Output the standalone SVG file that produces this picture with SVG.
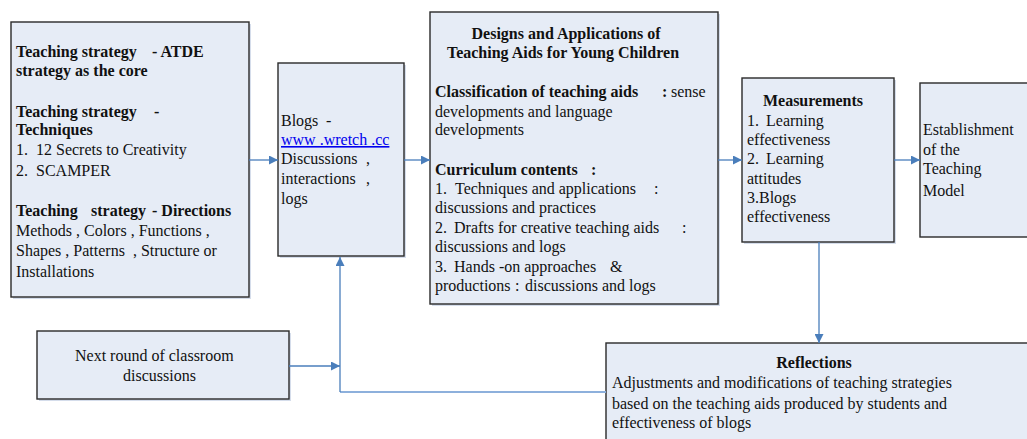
<svg xmlns="http://www.w3.org/2000/svg" width="1027" height="439" viewBox="0 0 1027 439">
<style>
text{font-family:"Liberation Serif","Times New Roman",serif;font-size:16px;fill:#111;white-space:pre}
.b{font-weight:bold}
.c{text-anchor:middle}
.box{fill:#E6ECF6;stroke:#2a2a2a;stroke-width:1.4}
.sh{fill:#D5DDEB}
.link{fill:#0000EE;text-decoration:underline}
.con{fill:none;stroke:#4A7EBB;stroke-width:1.3}
.con2{fill:none;stroke:#8DB0DC;stroke-width:2.2}
</style>
<defs>
<marker id="ah" markerUnits="userSpaceOnUse" markerWidth="10" markerHeight="9" refX="9" refY="4.5" orient="auto">
<path d="M0,0 L9,4.5 L0,9 z" fill="#4A7EBB"/>
</marker>
</defs>
<rect width="1027" height="439" fill="#fff"/>

<g id="strategy">
<rect class="sh" x="13" y="24" width="238" height="275"/>
<rect class="box" x="11" y="22" width="238" height="275"/>
<text class="b" x="16" y="57">Teaching strategy<tspan x="152">- ATDE</tspan></text>
<text class="b" x="16" y="76">strategy as the core</text>
<text class="b" x="16" y="117">Teaching strategy<tspan x="154">-</tspan></text>
<text class="b" x="16" y="135">Techniques</text>
<text x="16" y="155">1.  12 Secrets to Creativity</text>
<text x="16" y="176">2.  SCAMPER</text>
<text class="b" x="16" y="216">Teaching<tspan x="91">strategy</tspan><tspan x="152">- Directions</tspan></text>
<text x="16" y="236">Methods , Colors , Functions ,</text>
<text x="16" y="256">Shapes , Patterns  , Structure or</text>
<text x="16" y="277">Installations</text>
</g>

<g id="blogs">
<rect class="sh" x="280" y="65" width="126" height="193"/>
<rect class="box" x="278" y="63" width="126" height="193"/>
<text x="281" y="126">Blogs<tspan x="326">-</tspan></text>
<text class="link" x="281" y="145">www .wretch .cc</text>
<text x="281" y="164">Discussions<tspan x="366">,</tspan></text>
<text x="281" y="184">interactions<tspan x="366">,</tspan></text>
<text x="281" y="204">logs</text>
</g>

<g id="designs">
<rect class="sh" x="432" y="14" width="288" height="292"/>
<rect class="box" x="430" y="12" width="288" height="292"/>
<text class="b c" x="566" y="39">Designs and Applications of</text>
<text class="b c" x="563" y="58">Teaching Aids for Young Children</text>
<text class="b" x="435" y="97">Classification of teaching aids<tspan x="662">:</tspan></text>
<text x="671" y="97">sense</text>
<text x="435" y="117">developments and language</text>
<text x="435" y="135">developments</text>
<text class="b" x="435" y="175">Curriculum contents<tspan x="591">:</tspan></text>
<text x="435" y="194">1.<tspan x="455">Techniques and applications</tspan><tspan x="654">:</tspan></text>
<text x="435" y="213">discussions and practices</text>
<text x="435" y="233">2.<tspan x="454">Drafts for creative teaching aids</tspan><tspan x="682">:</tspan></text>
<text x="435" y="252">discussions and logs</text>
<text x="435" y="272">3.<tspan x="454">Hands -on approaches</tspan><tspan x="610">&amp;</tspan></text>
<text x="435" y="291">productions<tspan x="515">:</tspan><tspan x="525">discussions and logs</tspan></text>
</g>

<g id="measurements">
<rect class="sh" x="744" y="80" width="152" height="164"/>
<rect class="box" x="742" y="78" width="152" height="164"/>
<text class="b c" x="813" y="106">Measurements</text>
<text x="747" y="126">1.<tspan x="766">Learning</tspan></text>
<text x="747" y="145">effectiveness</text>
<text x="747" y="164">2.<tspan x="766">Learning</tspan></text>
<text x="747" y="184">attitudes</text>
<text x="747" y="203">3.Blogs</text>
<text x="747" y="222">effectiveness</text>
</g>

<g id="model">
<rect class="box" x="920" y="83" width="115" height="154"/>
<text x="923" y="135">Establishment</text>
<text x="923" y="155">of the</text>
<text x="923" y="174">Teaching</text>
<text x="923" y="196">Model</text>
</g>

<g id="next-round">
<rect class="sh" x="39" y="333" width="252" height="68"/>
<rect class="box" x="37" y="331" width="252" height="68"/>
<text x="75" y="361">Next round of classroom</text>
<text x="123" y="381">discussions</text>
</g>

<g id="reflections">
<rect class="box" x="606" y="343" width="430" height="110"/>
<text class="b c" x="814" y="368">Reflections</text>
<text x="612" y="388">Adjustments and modifications of teaching strategies</text>
<text x="612" y="409">based on the teaching aids produced by students and</text>
<text x="612" y="428">effectiveness of blogs</text>
</g>

<g id="connectors">
<path class="con" d="M249,160 H278" marker-end="url(#ah)"/>
<path class="con" d="M404,160 H430" marker-end="url(#ah)"/>
<path class="con" d="M718,160 H742" marker-end="url(#ah)"/>
<path class="con" d="M894,160 H920" marker-end="url(#ah)"/>
<path class="con" d="M819,242 V343" marker-end="url(#ah)"/>
<path class="con2" d="M606,392 H340"/>
<path class="con" d="M340,392 V257" marker-end="url(#ah)"/>
<path class="con" d="M289,366 H340" marker-end="url(#ah)"/>
</g>
</svg>
